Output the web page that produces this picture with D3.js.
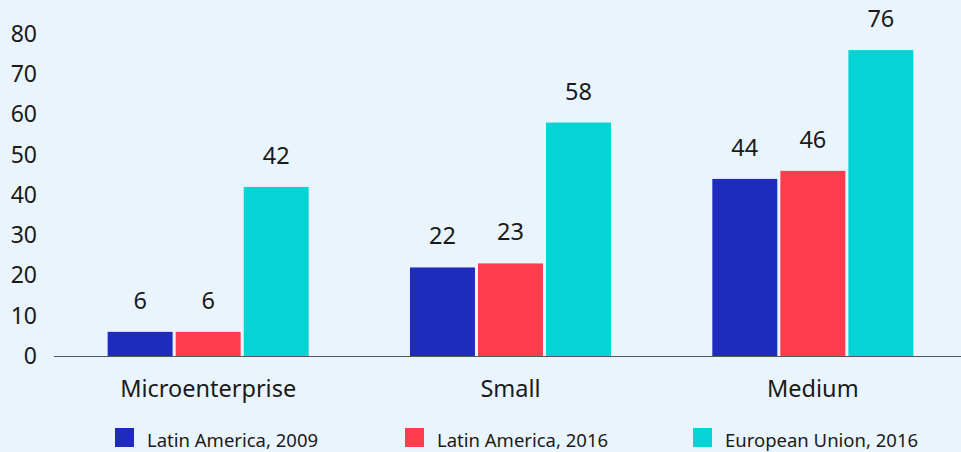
<!DOCTYPE html>
<html>
<head>
<meta charset="utf-8">
<script src="https://cdn.jsdelivr.net/npm/d3@7"></script>
<style>
  html, body { margin: 0; padding: 0; background: #eaf4fd; }
  svg { display: block; font-family: "Noto Sans", "Open Sans", sans-serif; }
</style>
</head>
<body>
<svg id="chart" width="961" height="452"></svg>
<script>
// Share of firms by size class (%)
const categories = ["Microenterprise", "Small", "Medium"];
const seriesNames = ["Latin America, 2009", "Latin America, 2016", "European Union, 2016"];
const latam2009 = [6, 22, 44];
const latam2016 = [6, 23, 46];
const eu2016 = [42, 58, 76];
const yTicks = [0, 10, 20, 30, 40, 50, 60, 70, 80];
const colors = ["#1f2bbd", "#ff3d4e", "#05d4d4"];

const seriesValues = [latam2009, latam2016, eu2016];
const rows = categories.map((c, i) => ({
  category: c,
  values: seriesNames.map((s, j) => ({ series: s, idx: j, value: seriesValues[j][i] }))
}));

const svg = d3.select("#chart");
const W = 961, H = 452;
const yBase = 356, yTop = 34;

const x0 = d3.scaleBand().domain(categories).range([57, 964]).paddingInner(0.335).paddingOuter(0.1675);
const x1 = d3.scaleBand().domain(seriesNames).range([0, x0.bandwidth()]).paddingInner(0.045);
const y = d3.scaleLinear().domain([0, 80]).range([yBase, yTop]);

// Y axis labels (no line, no ticks)
const yAxis = d3.axisLeft(y).tickValues(yTicks).tickSize(0).tickPadding(0);
const gy = svg.append("g").attr("transform", "translate(37,0)").call(yAxis);
gy.select(".domain").remove();
gy.selectAll("text").attr("font-size", 23).attr("fill", "#1a1a1a").attr("font-family", "'Noto Sans', sans-serif");

// Bars
const groups = svg.append("g").selectAll("g").data(rows).join("g")
  .attr("transform", d => `translate(${x0(d.category)},0)`);

groups.selectAll("rect").data(d => d.values).join("rect")
  .attr("x", d => x1(d.series))
  .attr("y", d => y(d.value))
  .attr("width", x1.bandwidth())
  .attr("height", d => y(0) - y(d.value))
  .attr("fill", d => colors[d.idx]);

groups.selectAll("text").data(d => d.values).join("text")
  .attr("x", d => x1(d.series) + x1.bandwidth() / 2)
  .attr("y", d => y(d.value) - 23)
  .attr("text-anchor", "middle")
  .attr("font-size", 23.5)
  .attr("fill", "#1a1a1a")
  .text(d => d.value);

// Baseline
svg.append("line")
  .attr("x1", 54).attr("x2", W)
  .attr("y1", yBase + 0.5).attr("y2", yBase + 0.5)
  .attr("stroke", "#555").attr("stroke-width", 1);

// Category axis labels
const xAxis = d3.axisBottom(x0).tickSize(0).tickPadding(0);
const gx = svg.append("g").attr("transform", `translate(0,${yBase})`).call(xAxis);
gx.select(".domain").remove();
gx.selectAll("text").attr("font-size", 23.5).attr("fill", "#1a1a1a")
  .attr("font-family", "'Noto Sans', sans-serif").attr("dy", null).attr("y", 41);

// Legend
const legendX = [115, 405, 693];
const legend = svg.append("g").selectAll("g").data(seriesNames).join("g")
  .attr("transform", (d, i) => `translate(${legendX[i]},428)`);
legend.append("rect").attr("width", 19).attr("height", 19).attr("fill", (d, i) => colors[i]);
legend.append("text").attr("x", 32).attr("y", 19).attr("font-size", 18.5).attr("fill", "#1a1a1a").text(d => d);
</script>
</body>
</html>
